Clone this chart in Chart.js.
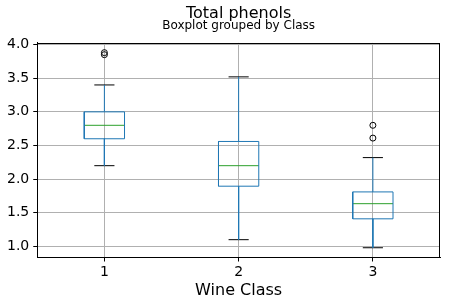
<!DOCTYPE html>
<html>
<head>
<meta charset="utf-8">
<script src="https://cdn.jsdelivr.net/npm/chart.js@4"></script>
<style>
  body { margin: 0; background: #fff; }
</style>
</head>
<body>
<canvas id="boxChart" width="450" height="305"></canvas>
<script>
// Total phenols per wine class
var categories = [1, 2, 3];
var whiskerLow = [2.20, 1.10, 0.98];
var q1 = [2.60, 1.895, 1.41];
var medians = [2.80, 2.20, 1.635];
var q3 = [3.00, 2.56, 1.81];
var whiskerHigh = [3.40, 3.52, 2.32];
var outliers = [[3.88, 3.85], [], [2.80, 2.61]];
var yTicks = [1.0, 1.5, 2.0, 2.5, 3.0, 3.5, 4.0];

var BOX_HALF = 0.15;
var CAP_HALF = 0.075;

function seg(points, color) {
    return {
        type: 'scatter',
        data: points,
        showLine: true,
        borderColor: color,
        borderWidth: 1,
        pointRadius: 0,
        pointHoverRadius: 0,
        fill: false,
        tension: 0
    };
}

var datasets = [];
categories.forEach(function (c, i) {
    // whiskers
    datasets.push(seg([{x: c, y: q1[i]}, {x: c, y: whiskerLow[i]}], '#1f77b4'));
    datasets.push(seg([{x: c, y: q3[i]}, {x: c, y: whiskerHigh[i]}], '#1f77b4'));
    // caps
    datasets.push(seg([{x: c - CAP_HALF, y: whiskerLow[i]}, {x: c + CAP_HALF, y: whiskerLow[i]}], '#000000'));
    datasets.push(seg([{x: c - CAP_HALF, y: whiskerHigh[i]}, {x: c + CAP_HALF, y: whiskerHigh[i]}], '#000000'));
    // box
    datasets.push(seg([
        {x: c - BOX_HALF, y: q1[i]}, {x: c + BOX_HALF, y: q1[i]},
        {x: c + BOX_HALF, y: q3[i]}, {x: c - BOX_HALF, y: q3[i]},
        {x: c - BOX_HALF, y: q1[i]}
    ], '#1f77b4'));
    // median
    datasets.push(seg([{x: c - BOX_HALF, y: medians[i]}, {x: c + BOX_HALF, y: medians[i]}], '#2ca02c'));
});

var fliers = [];
categories.forEach(function (c, i) {
    outliers[i].forEach(function (v) { fliers.push({x: c, y: v}); });
});
datasets.push({
    type: 'scatter',
    data: fliers,
    pointStyle: 'circle',
    pointRadius: 3,
    pointBorderColor: '#000000',
    pointBackgroundColor: 'rgba(0,0,0,0)',
    pointBorderWidth: 1,
    showLine: false
});

// frame on top and right like matplotlib axes
var frame = {
    id: 'frame',
    afterDatasetsDraw: function (chart) {
        var a = chart.chartArea, ctx = chart.ctx;
        ctx.save();
        ctx.strokeStyle = '#000';
        ctx.lineWidth = 1;
        ctx.strokeRect(Math.round(a.left) + 0.5, Math.round(a.top) + 0.5,
            Math.round(a.right - a.left) - 1, Math.round(a.bottom - a.top) - 1);
        ctx.restore();
    }
};

Chart.defaults.font.family = 'DejaVu Sans';
Chart.defaults.color = '#000';

var ctx = document.getElementById('boxChart').getContext('2d');
var chart = new Chart(ctx, {
    type: 'scatter',
    data: { datasets: datasets },
    options: {
        responsive: false,
        animation: false,
        devicePixelRatio: 1,
        layout: { padding: { left: 3, right: 10, top: 0, bottom: 5 } },
        plugins: {
            legend: { display: false },
            tooltip: { enabled: false },
            title: {
                display: true,
                text: 'Total phenols',
                fullSize: false,
                font: { size: 16, weight: 'normal', lineHeight: 1 },
                padding: { top: 5.5, bottom: 0 }
            },
            subtitle: {
                display: true,
                text: 'Boxplot grouped by Class',
                fullSize: false,
                font: { size: 12, weight: 'normal', lineHeight: 0.7 },
                padding: { top: 0.5, bottom: 12.5 }
            }
        },
        scales: {
            x: {
                type: 'linear',
                min: 0.5,
                max: 3.5,
                afterBuildTicks: function (scale) {
                    scale.ticks = categories.map(function (v) { return {value: v}; });
                },
                ticks: {
                    font: { size: 14 },
                    padding: 2,
                    callback: function (v) { return String(v); }
                },
                grid: { color: '#b0b0b0', lineWidth: 1, tickColor: '#000', tickLength: 4 },
                border: { display: true, color: '#000', width: 1 },
                title: {
                    display: true,
                    text: 'Wine Class',
                    font: { size: 16 },
                    padding: { top: -1.5, bottom: 0 }
                }
            },
            y: {
                type: 'linear',
                min: 0.835,
                max: 4.025,
                afterBuildTicks: function (scale) {
                    scale.ticks = yTicks.map(function (v) { return {value: v}; });
                },
                ticks: {
                    font: { size: 14 },
                    padding: 4,
                    callback: function (v) { return v.toFixed(1); }
                },
                grid: { color: '#b0b0b0', lineWidth: 1, tickColor: '#000', tickLength: 4 },
                border: { display: true, color: '#000', width: 1 }
            }
        }
    },
    plugins: [frame]
});
</script>
</body>
</html>
